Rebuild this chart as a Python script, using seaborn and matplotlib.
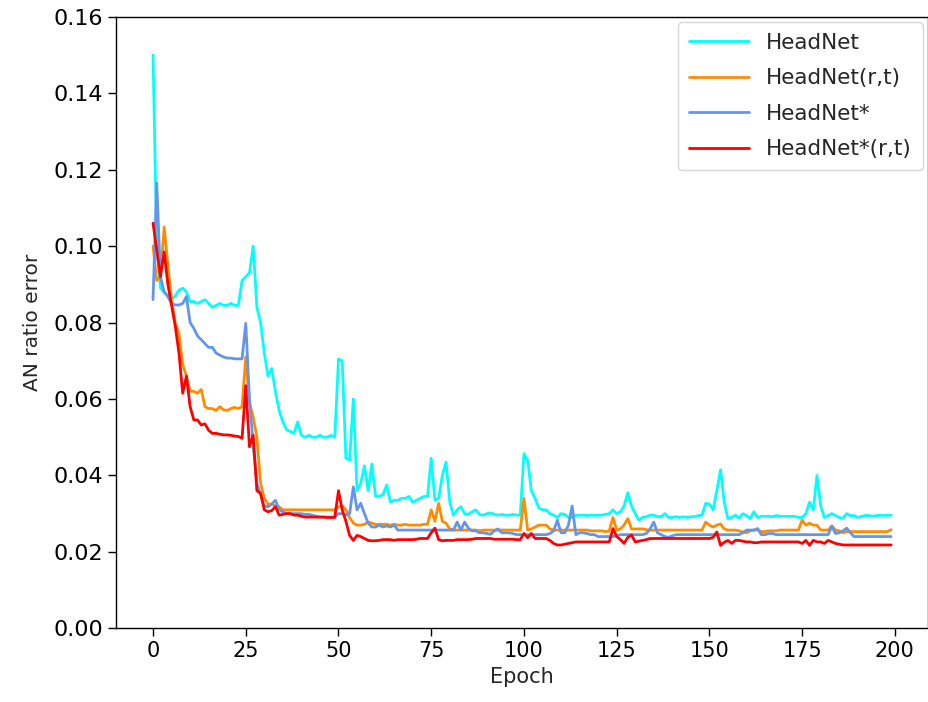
import numpy as np
import pandas as pd
import matplotlib
matplotlib.use("Agg")
import matplotlib.pyplot as plt
import seaborn as sns

epochs = list(range(200))

headnet = [
    0.150, 0.100, 0.089, 0.088, 0.087, 0.086, 0.087, 0.0885, 0.089, 0.088,
    0.0855, 0.0855, 0.085, 0.0855, 0.086, 0.085, 0.084, 0.0845, 0.085, 0.0845,
    0.0845, 0.085, 0.0845, 0.0845, 0.091, 0.092, 0.093, 0.100, 0.084, 0.080,
    0.072, 0.066, 0.068, 0.062, 0.057, 0.054, 0.052, 0.0515, 0.051, 0.054,
    0.0505, 0.050, 0.0505, 0.050, 0.050, 0.0505, 0.050, 0.050, 0.0505, 0.050,
    0.0705, 0.070, 0.0445, 0.044, 0.060, 0.036, 0.038, 0.0425, 0.036, 0.043,
    0.0345, 0.0345, 0.035, 0.0375, 0.033, 0.0335, 0.0335, 0.034, 0.034, 0.0345,
    0.033, 0.0335, 0.034, 0.0345, 0.0345, 0.0445, 0.0335, 0.034, 0.040, 0.0435,
    0.033, 0.0296, 0.031, 0.0318, 0.030, 0.0298, 0.0305, 0.031, 0.0298, 0.0296,
    0.030, 0.0302, 0.0298, 0.0296, 0.0298, 0.0296, 0.0296, 0.0298, 0.0296, 0.0296,
    0.0457, 0.044, 0.036, 0.034, 0.0315, 0.031, 0.031, 0.030, 0.0296, 0.029,
    0.030, 0.0298, 0.029, 0.029, 0.0295, 0.0296, 0.0296, 0.0295, 0.0296, 0.0296,
    0.0296, 0.0296, 0.0298, 0.030, 0.031, 0.030, 0.0305, 0.032, 0.0355, 0.032,
    0.030, 0.0283, 0.029, 0.0292, 0.0296, 0.0296, 0.0292, 0.0292, 0.030, 0.029,
    0.029, 0.0292, 0.029, 0.0292, 0.029, 0.0292, 0.0292, 0.0295, 0.0296, 0.0327,
    0.0325, 0.031, 0.036, 0.0415, 0.033, 0.0287, 0.029, 0.0296, 0.0288, 0.030,
    0.0295, 0.0287, 0.0305, 0.029, 0.0293, 0.0293, 0.0293, 0.0292, 0.0295, 0.0293,
    0.0293, 0.0293, 0.0293, 0.0293, 0.029, 0.029, 0.030, 0.033, 0.031, 0.040,
    0.032, 0.029, 0.0295, 0.030, 0.0295, 0.029, 0.0288, 0.030, 0.0295, 0.0295,
    0.029, 0.0293, 0.0295, 0.0295, 0.0293, 0.0295, 0.0296, 0.0295, 0.0296, 0.0296,
]

headnet_rt = [
    0.100, 0.091, 0.092, 0.105, 0.095, 0.086, 0.080, 0.077, 0.069, 0.066,
    0.062, 0.062, 0.0615, 0.0625, 0.058, 0.0575, 0.0575, 0.057, 0.058, 0.0572,
    0.057, 0.0575, 0.0578, 0.0575, 0.058, 0.071, 0.059, 0.0553, 0.050, 0.038,
    0.034, 0.0325, 0.0325, 0.032, 0.0318, 0.031, 0.031, 0.031, 0.031, 0.031,
    0.031, 0.031, 0.031, 0.031, 0.031, 0.031, 0.031, 0.031, 0.031, 0.031,
    0.0318, 0.032, 0.031, 0.029, 0.0275, 0.027, 0.027, 0.0272, 0.0278, 0.0275,
    0.0272, 0.0272, 0.0272, 0.0272, 0.027, 0.0272, 0.027, 0.027, 0.0272, 0.027,
    0.027, 0.027, 0.027, 0.0272, 0.0272, 0.031, 0.028, 0.0327, 0.028, 0.0275,
    0.026, 0.0257, 0.0257, 0.0257, 0.0257, 0.0257, 0.0257, 0.0257, 0.0255, 0.0257,
    0.0257, 0.0257, 0.0257, 0.0257, 0.0257, 0.0257, 0.0257, 0.0257, 0.0257, 0.0257,
    0.034, 0.0257, 0.026, 0.0265, 0.027, 0.027, 0.027, 0.026, 0.0257, 0.0257,
    0.0257, 0.0257, 0.0257, 0.0257, 0.0257, 0.0257, 0.0257, 0.0257, 0.0255, 0.0255,
    0.0255, 0.0255, 0.0253, 0.0255, 0.029, 0.0257, 0.026, 0.027, 0.0287, 0.026,
    0.026, 0.026, 0.026, 0.0258, 0.0257, 0.0257, 0.0257, 0.0257, 0.0257, 0.0257,
    0.0257, 0.0257, 0.0257, 0.0257, 0.0257, 0.0257, 0.0257, 0.0257, 0.0257, 0.0278,
    0.027, 0.0265, 0.027, 0.0273, 0.026, 0.0257, 0.0257, 0.0257, 0.0255, 0.0252,
    0.025, 0.0255, 0.0257, 0.0257, 0.0253, 0.0253, 0.0255, 0.0255, 0.0255, 0.0257,
    0.0257, 0.0257, 0.0257, 0.0257, 0.0257, 0.0283, 0.027, 0.0275, 0.027, 0.027,
    0.0257, 0.0257, 0.0257, 0.0268, 0.0257, 0.0255, 0.025, 0.0253, 0.0253, 0.0253,
    0.0253, 0.0253, 0.0253, 0.0253, 0.0253, 0.0253, 0.0253, 0.0253, 0.0253, 0.0258,
]

headnet_star = [
    0.086, 0.1165, 0.092, 0.088, 0.0868, 0.085, 0.0846, 0.0846, 0.085, 0.0868,
    0.080, 0.0785, 0.0765, 0.0755, 0.0745, 0.0735, 0.0735, 0.072, 0.0715, 0.071,
    0.0707, 0.0707, 0.0705, 0.0705, 0.0705, 0.0798, 0.060, 0.048, 0.038, 0.035,
    0.032, 0.0318, 0.0325, 0.0335, 0.031, 0.0305, 0.030, 0.030, 0.030, 0.030,
    0.030, 0.0298, 0.0298, 0.0296, 0.0293, 0.0291, 0.0291, 0.0291, 0.0291, 0.0291,
    0.030, 0.030, 0.0296, 0.030, 0.037, 0.031, 0.0327, 0.030, 0.0275, 0.0265,
    0.0265, 0.027, 0.0265, 0.0268, 0.0265, 0.027, 0.0257, 0.0257, 0.0257, 0.0257,
    0.0257, 0.0257, 0.0257, 0.0257, 0.0257, 0.0257, 0.0257, 0.0257, 0.0257, 0.0257,
    0.0257, 0.0257, 0.0278, 0.0257, 0.0278, 0.0262, 0.0255, 0.0255, 0.025, 0.025,
    0.0248, 0.0246, 0.0255, 0.026, 0.025, 0.025, 0.025, 0.0248, 0.0245, 0.0245,
    0.0245, 0.0245, 0.0245, 0.0245, 0.0245, 0.0245, 0.0245, 0.0248, 0.0255, 0.0283,
    0.025, 0.025, 0.027, 0.032, 0.0245, 0.025, 0.025, 0.0248, 0.0245, 0.0245,
    0.024, 0.024, 0.024, 0.024, 0.024, 0.0242, 0.0245, 0.0245, 0.0245, 0.0245,
    0.0245, 0.0245, 0.0245, 0.0248, 0.026, 0.0278, 0.025, 0.0245, 0.024, 0.0238,
    0.0242, 0.0245, 0.0245, 0.0245, 0.0245, 0.0245, 0.0245, 0.0245, 0.0245, 0.0245,
    0.0245, 0.0245, 0.0245, 0.0245, 0.0245, 0.0245, 0.0245, 0.0245, 0.0245, 0.025,
    0.0257, 0.0257, 0.0257, 0.0261, 0.0245, 0.0245, 0.0248, 0.0248, 0.0245, 0.0245,
    0.0245, 0.0245, 0.0245, 0.0245, 0.0245, 0.0245, 0.0245, 0.0245, 0.0245, 0.0245,
    0.0245, 0.0245, 0.0245, 0.0267, 0.0248, 0.025, 0.0255, 0.0262, 0.025, 0.024,
    0.024, 0.024, 0.024, 0.024, 0.024, 0.024, 0.024, 0.024, 0.024, 0.024,
]

headnet_star_rt = [
    0.106, 0.099, 0.092, 0.0985, 0.090, 0.0845, 0.079, 0.072, 0.0615, 0.066,
    0.058, 0.0545, 0.0545, 0.0532, 0.0535, 0.0518, 0.051, 0.051, 0.0508, 0.0506,
    0.0506, 0.0505, 0.0503, 0.0502, 0.0497, 0.0635, 0.0475, 0.0505, 0.036, 0.0353,
    0.031, 0.0305, 0.0308, 0.0318, 0.0296, 0.0298, 0.030, 0.030, 0.0296, 0.0296,
    0.0293, 0.0291, 0.0291, 0.0291, 0.0291, 0.0291, 0.0291, 0.029, 0.029, 0.029,
    0.036, 0.031, 0.028, 0.0243, 0.023, 0.0243, 0.024, 0.0235, 0.023, 0.0229,
    0.0229, 0.023, 0.0232, 0.0232, 0.0232, 0.023, 0.0232, 0.0232, 0.0232, 0.0232,
    0.0232, 0.0233, 0.0235, 0.0235, 0.0235, 0.025, 0.0262, 0.0232, 0.0229, 0.023,
    0.023, 0.023, 0.0232, 0.0232, 0.0232, 0.0232, 0.0233, 0.0235, 0.0235, 0.0235,
    0.0235, 0.0235, 0.0233, 0.0233, 0.0233, 0.0233, 0.0233, 0.0233, 0.0232, 0.0232,
    0.0248, 0.0237, 0.0248, 0.0235, 0.0235, 0.0235, 0.0235, 0.023, 0.0222, 0.0218,
    0.0218, 0.022, 0.0222, 0.0224, 0.0226, 0.0226, 0.0226, 0.0226, 0.0226, 0.0226,
    0.0226, 0.0226, 0.0226, 0.0226, 0.0261, 0.024, 0.0232, 0.0222, 0.0238, 0.0244,
    0.0226, 0.0228, 0.023, 0.0232, 0.0235, 0.0235, 0.0235, 0.0235, 0.0235, 0.0235,
    0.0235, 0.0235, 0.0235, 0.0235, 0.0235, 0.0235, 0.0235, 0.0235, 0.0235, 0.0235,
    0.0235, 0.0238, 0.0252, 0.0217, 0.0225, 0.023, 0.0222, 0.023, 0.023, 0.0228,
    0.0226, 0.0226, 0.0224, 0.0224, 0.0226, 0.0226, 0.0226, 0.0226, 0.0226, 0.0226,
    0.0226, 0.0226, 0.0226, 0.0226, 0.0226, 0.0222, 0.023, 0.0217, 0.023, 0.0226,
    0.0226, 0.0222, 0.023, 0.0226, 0.0222, 0.022, 0.0218, 0.0218, 0.0218, 0.0218,
    0.0218, 0.0218, 0.0218, 0.0218, 0.0218, 0.0218, 0.0218, 0.0218, 0.0218, 0.0218,
]

labels = ["HeadNet", "HeadNet(r,t)", "HeadNet*", "HeadNet*(r,t)"]
colors = ["#00FFFF", "#FF8C00", "#6495ED", "#FF0000"]
series = [headnet, headnet_rt, headnet_star, headnet_star_rt]

df = pd.concat(
    [pd.DataFrame({"Epoch": epochs, "err": s, "model": lab}) for s, lab in zip(series, labels)],
    ignore_index=True,
)

sns.set_theme(style="ticks")
plt.rcParams["font.family"] = ["DejaVu Sans"]

fig = plt.figure(figsize=(9.29, 7.02), dpi=100)
ax = fig.add_axes([0.125, 0.105, 0.874, 0.871])

sns.lineplot(data=df, x="Epoch", y="err", hue="model", hue_order=labels,
             palette=dict(zip(labels, colors)), linewidth=2.0, ax=ax,
             estimator=None, sort=False)

yt = np.arange(0, 0.161, 0.02)
ax.set_ylim(0, 0.16)
ax.set_yticks(yt)
ax.set_yticklabels([f"{v:.2f}" for v in yt])
ax.set_xticks(range(0, 201, 25))
ax.set_xlabel("Epoch", fontsize=15)
ax.set_ylabel("AN ratio error", fontsize=14.5, labelpad=8)
ax.tick_params(axis="y", labelsize=16, length=6, width=1, colors="black")
ax.tick_params(axis="x", labelsize=15, length=6, width=1, colors="black")
for sp in ax.spines.values():
    sp.set_visible(True)
    sp.set_color("black")
    sp.set_linewidth(1.0)

leg = ax.legend(loc="upper right", fontsize=15.5, frameon=True, fancybox=True,
                handlelength=2.8, handletextpad=0.8, labelspacing=0.72,
                borderaxespad=0.25, borderpad=0.5)
leg.get_frame().set_edgecolor("#cccccc")
for line in leg.get_lines():
    line.set_linewidth(2.0)

fig.savefig("out.png", dpi=100)
